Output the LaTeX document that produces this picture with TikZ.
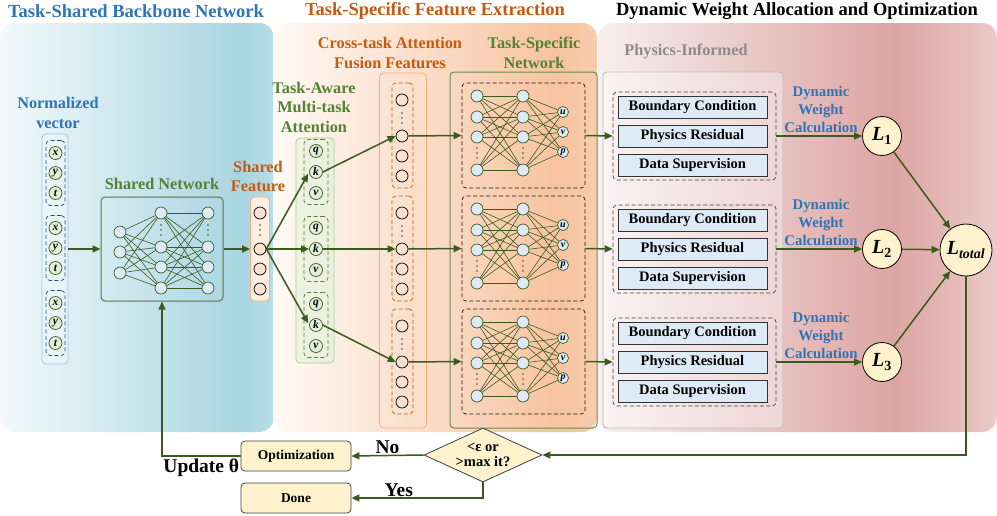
\documentclass[tikz,border=0pt]{standalone}
\usepackage{fontspec}
\setmainfont{Liberation Serif}
\usetikzlibrary{arrows.meta,shapes.geometric,positioning}

\definecolor{bleutitre}{HTML}{2E75B6}
\definecolor{bleuclair}{HTML}{9DC3E6}
\definecolor{bleufonce}{HTML}{1F4E79}
\definecolor{orangetitre}{HTML}{C55A11}
\definecolor{orangeclair}{HTML}{F4B183}
\definecolor{vertlabel}{HTML}{548235}
\definecolor{vertclair}{HTML}{A9D18E}
\definecolor{vertfonce}{HTML}{3A5A1F}
\definecolor{bleupale}{HTML}{DEEBF7}
\definecolor{vertpale}{HTML}{E2F0D9}
\definecolor{peche}{HTML}{FBE2D0}
\definecolor{creme}{HTML}{FFF2CC}
\definecolor{grislabel}{HTML}{8C8C8C}

% degrades des panneaux
\definecolor{fb1}{HTML}{F3F9FB}\definecolor{fb2}{HTML}{A8D5E1}\definecolor{fb3}{HTML}{B8DEE7}
\definecolor{fo1}{HTML}{FFFAF6}\definecolor{fo2}{HTML}{F7C3A0}\definecolor{fo3}{HTML}{F8CCAE}
\definecolor{fr1}{HTML}{F7EFEE}\definecolor{fr2}{HTML}{DCA5A3}\definecolor{fr3}{HTML}{EBCAC8}
\pgfdeclarehorizontalshading{fondbleu}{100bp}{color(0bp)=(fb1); color(25bp)=(fb1); color(69bp)=(fb2); color(75bp)=(fb3); color(100bp)=(fb3)}
\pgfdeclarehorizontalshading{fondorange}{100bp}{color(0bp)=(fo1); color(25bp)=(fo1); color(69bp)=(fo2); color(75bp)=(fo3); color(100bp)=(fo3)}
\pgfdeclarehorizontalshading{fondrose}{100bp}{color(0bp)=(fr1); color(25bp)=(fr1); color(62bp)=(fr2); color(75bp)=(fr3); color(100bp)=(fr3)}

\tikzset{
  fleche/.style={-{Triangle[length=8pt,width=7pt]}, line width=1.5pt, draw=vertfonce},
  lien/.style={draw=vertfonce, line width=0.6pt},
  points/.style={draw=vertfonce, line width=1.8pt, line cap=round, dash pattern=on 0pt off 5pt},
  neurone/.style={circle, draw=vertfonce, fill=bleupale, line width=0.7pt, minimum size=12pt, inner sep=0pt},
  entree/.style={circle, draw=vertfonce, fill=vertpale, line width=0.7pt, minimum size=13pt, inner sep=0pt,
    font=\fontsize{11.5}{12}\selectfont\bfseries\itshape},
  sortie/.style={entree, fill=bleupale, minimum size=11pt, font=\fontsize{10}{11}\selectfont\bfseries\itshape},
  cercleF/.style={circle, draw=black, line width=0.7pt, minimum size=12pt, inner sep=0pt},
  cercleS/.style={cercleF, fill=peche},
  boite/.style={rectangle, rounded corners=4pt, inner sep=0pt},
  tirets/.style={boite, line width=0.7pt, dash pattern=on 4pt off 2.5pt},
  contrainte/.style={rectangle, draw=black!80, fill=bleupale, line width=0.8pt, minimum width=149pt,
    minimum height=22pt, inner sep=0pt, font=\fontsize{14.5}{16}\selectfont\bfseries},
  perte/.style={circle, draw=black, fill=creme, line width=0.8pt, inner sep=0pt,
    font=\fontsize{20}{22}\selectfont\bfseries},
  etape/.style={boite, draw=black!75, fill=creme, line width=0.8pt, minimum width=110pt,
    minimum height=30pt, font=\fontsize{13.5}{15}\selectfont\bfseries},
  titre/.style={font=\fontsize{18.5}{21}\selectfont\bfseries},
  sous/.style={font=\fontsize{16.3}{19.5}\selectfont\bfseries, align=center},
  dynlabel/.style={text=bleutitre, font=\fontsize{14.8}{18}\selectfont\bfseries, align=center},
  grand/.style={font=\fontsize{19.5}{21}\selectfont\bfseries},
}

\begin{document}
\begin{tikzpicture}[x=1pt,y=-1pt]
\useasboundingbox (0,0) rectangle (997,515);

% fonds des trois panneaux
\shade[rounded corners=15pt, shading=fondbleu] (0,23) rectangle (274,432);
\shade[rounded corners=15pt, shading=fondorange] (273,23) rectangle (597,432);
\shade[rounded corners=15pt, shading=fondrose] (598,23) rectangle (997,432);

% titres
\node[titre, text=bleutitre] (ttl1) at (136,11) {Task-Shared Backbone Network};
\node[titre, text=orangetitre] (ttl2) at (435,11) {Task-Specific Feature Extraction};
\node[titre] (ttl3) at (797,11) {Dynamic Weight Allocation and Optimization};

% vecteur normalise
\node[sous, text=bleutitre] (lvec) at (58,113) {Normalized\\vector};
\node[boite, draw=bleuclair, fill=white, fill opacity=0.25, line width=0.8pt,
  minimum width=26pt, minimum height=230pt] (vec) at (55,249) {};
\foreach \g/\c in {1/173,2/248,3/323} {
  \node[tirets, draw=bleufonce, minimum width=19pt, minimum height=65pt] (vg\g) at (55.5,\c) {};
  \node[entree] (vx\g) at (55.5,\c-20) {x};
  \node[entree] (vy\g) at (55.5,\c) {y};
  \node[entree] (vt\g) at (55.5,\c+20) {t};
}

% reseau partage
\node[sous, text=vertlabel] (lsh) at (162,184) {Shared Network};
\node[boite, draw=vertfonce!85, line width=1pt, minimum width=122pt, minimum height=104pt] (shnet) at (162,249) {};
\foreach \i/\y in {1/232,2/252,3/273}
  \node[neurone] (sa\i) at (120,\y) {};
\foreach \i/\y in {1/213,2/247,3/267,4/288} {
  \node[neurone] (sb\i) at (161,\y) {};
  \node[neurone] (sc\i) at (208,\y) {};
}
\foreach \i in {1,2,3}
  \foreach \j in {1,...,4}
    \draw[lien] (sa\i) -- (sb\j);
\foreach \i in {1,...,4}
  \foreach \j in {1,...,4}
    \draw[lien] (sb\i) -- (sc\j);
\draw[points] (161,225) -- (161,236);
\draw[points] (208,225) -- (208,236);

% caracteristique partagee
\node[sous, text=orangetitre] (lsf) at (258,176.5) {Shared\\Feature};
\node[boite, draw=orangeclair, fill=peche!60, line width=0.8pt, minimum width=19pt, minimum height=104pt] (shfeat) at (260,249) {};
\foreach \i/\y in {1/213,2/249,3/269,4/289}
  \node[cercleS] (sf\i) at (260,\y) {};
\draw[points] (260,225) -- (260,236);

% attention multi-taches
\node[sous, text=vertlabel] (latt) at (314,107) {Task-Aware\\Multi-task\\Attention};
\node[boite, draw=vertclair, fill=vertpale, fill opacity=0.6, line width=0.8pt,
  minimum width=38pt, minimum height=225pt] (att) at (315,250.5) {};
\foreach \g/\c in {1/172,2/249,3/325} {
  \node[tirets, draw=vertlabel, minimum width=24pt, minimum height=65pt] (ag\g) at (316,\c) {};
  \node[entree] (aq\g) at (316,\c-21) {q};
  \node[entree] (ak\g) at (316,\c) {k};
  \node[entree] (av\g) at (316,\c+21) {v};
}

% fusion inter-taches
\node[sous, text=orangetitre] (lfus) at (390,53) {Cross-task Attention\\Fusion Features};
\node[boite, draw=orangeclair, line width=0.8pt, minimum width=47pt, minimum height=355pt] (fus) at (403,250.5) {};

% reseaux specifiques
\node[sous, text=vertlabel] (lts) at (534,53) {Task-Specific\\Network};
\node[boite, draw=vertlabel!90, line width=1pt, minimum width=147pt, minimum height=356pt] (tsn) at (523.5,250) {};

% physique
\node[sous, text=grislabel] (lphy) at (686,52) {Physics-Informed};
\node[boite, draw=black!25, fill=white, fill opacity=0.35, line width=0.9pt,
  minimum width=180pt, minimum height=356pt] (phy) at (693,250) {};

\foreach \g/\b in {1/136,2/249,3/362} {
  % fusion
  \node[tirets, draw=orangetitre, minimum width=21pt, minimum height=105pt] (fg\g) at (402.5,\b-0.5) {};
  \foreach \i/\d in {1/-36,2/0,3/20,4/40}
    \node[cercleF] (f\g\i) at (402,\b+\d) {};
  \draw[points] (402,\b-23) -- (402,\b-12);
  % reseau specifique
  \node[tirets, draw=black!70!vertfonce, minimum width=123pt, minimum height=105pt] (ts\g) at (523.5,\b-0.5) {};
  \foreach \i/\d in {1/-40,2/-19,3/1,4/34} {
    \node[neurone] (ta\g\i) at (477,\b+\d) {};
    \node[neurone] (tb\g\i) at (523,\b+\d) {};
  }
  \foreach \i/\d/\t in {1/-24/u,2/-4/v,3/16/p}
    \node[sortie] (to\g\i) at (563,\b+\d) {\t};
  \foreach \i in {1,...,4} {
    \foreach \j in {1,...,4}
      \draw[lien] (ta\g\i) -- (tb\g\j);
    \foreach \j in {1,2,3}
      \draw[lien] (tb\g\i) -- (to\g\j);
  }
  \draw[points] (477,\b+12) -- (477,\b+23);
  \draw[points] (523,\b+12) -- (523,\b+23);
  % contraintes physiques
  \node[tirets, draw=black!75, minimum width=163pt, minimum height=88pt] (ph\g) at (694.5,\b) {};
  \node[contrainte] (bc\g) at (692.5,\b-29) {Boundary Condition};
  \node[contrainte] (pr\g) at (692.5,\b) {Physics Residual};
  \node[contrainte] (ds\g) at (692.5,\b+29) {Data Supervision};
  % pertes
  \node[dynlabel] (dw\g) at (821,\b-27) {Dynamic\\Weight\\Calculation};
  \node[perte, minimum size=39pt] (L\g) at (882,\b) {\textit{L}\textsubscript{\g}};
}
\node[perte, minimum size=52pt] (ltot) at (966,250) {\textit{L\textsubscript{total}}};

% fleches principales
\draw[fleche] (vec.east) -- (shnet.west);
\draw[fleche] (shnet.east) -- (shfeat.west);
\draw[fleche, shorten >=2pt] (sf2.east) -- (ak1.west);
\draw[fleche] (sf2.east) -- (ak2.west);
\draw[fleche, shorten >=2pt] (sf2.east) -- (ak3.west);
\foreach \g in {1,2,3} {
  \draw[fleche] (ak\g.east) -- (f\g2.west);
  \draw[fleche] (f\g2.east) -- (ts\g.west);
  \draw[fleche] (ts\g.east) -- (ph\g.west);
  \draw[fleche] (ph\g.east) -- (L\g.west);
  \draw[fleche] (L\g) -- (ltot);
}

% boucle d'optimisation
\node[diamond, draw=black!75, fill=creme, line width=0.8pt, minimum width=118pt, minimum height=54pt, inner sep=0pt,
  label={[font=\fontsize{14.5}{14.5}\selectfont\bfseries, align=center]center:{<ε or\\>max it?}}] (cond) at (483,455) {};
\node[etape] (optim) at (296,456) {Optimization};
\node[etape] (done) at (296,498) {Done};

\draw[fleche] (ltot.south) |- (cond.east);
\draw[fleche] (cond.west) -- node[grand, above, inner sep=1pt] (no) {No} (optim.east);
\draw[fleche] (cond.south) |- node[grand, pos=0.82, above, inner sep=1pt] (yes) {Yes} (done.east);
\draw[fleche] (optim.west) -| node[grand, pos=0.25, below, inner sep=2pt] (upd) {Update θ} (shnet.south);
\end{tikzpicture}
\end{document}
